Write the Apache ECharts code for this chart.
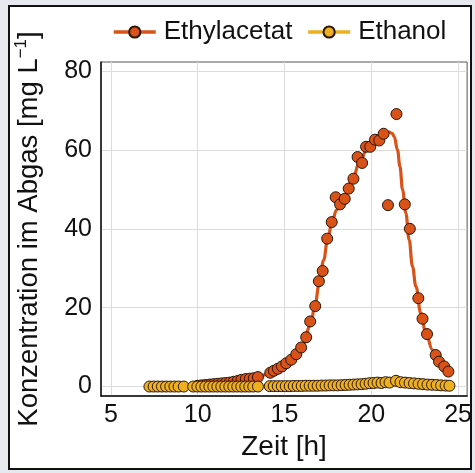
<!DOCTYPE html>
<html>
<head>
<meta charset="utf-8">
<script src="https://cdn.jsdelivr.net/npm/echarts@6/dist/echarts.min.js"></script>
<style>
html,body{margin:0;padding:0;background:#e6e9ee;}
#c{width:475px;height:473px;}
</style>
</head>
<body>
<div id="c"></div>
<script>
// Ethylacetat measurements [time h, concentration mg/L]
const eaTime = [10.0,10.23,10.46,10.69,10.92,11.15,11.38,11.61,11.84,12.07,12.30,12.52,12.77,13.0,13.23,13.47,
  14.18,14.39,14.62,14.85,15.1,15.39,15.68,15.96,16.25,16.48,16.77,16.98,17.2,17.46,17.72,17.95,18.2,18.47,18.7,18.97,
  19.21,19.47,19.7,19.94,20.21,20.46,20.71,20.96,21.45,21.93,22.22,22.71,22.95,23.21,23.71,23.9,24.2,24.44];
const eaValue = [0.2,0.3,0.4,0.5,0.6,0.7,0.8,0.9,1.0,1.2,1.4,1.7,1.9,2.0,2.1,2.4,
  3.5,4.0,4.5,5.1,5.9,6.8,8.2,9.9,12.5,16.5,20.4,26.7,29.3,37.5,41.7,48.0,46.2,47.6,50.2,52.7,
  58.2,56.7,60.8,60.8,62.6,62.4,64.1,46.0,69.1,46.2,40.0,22.4,17.2,13.3,8.0,6.3,5.1,3.8];
// Ethylacetat fit curve
const fitTime = [10.0,11.0,12.0,13.0,13.5,14.0,14.5,15.0,15.5,16.0,16.5,16.75,17.0,17.25,17.5,17.75,18.0,18.35,18.93,19.3,19.79,20.27,20.75,21.03,21.2,21.32,21.51,21.65,21.8,21.99,22.18,22.37,22.57,22.85,23.14,23.52,23.9,24.29,24.48];
const fitValue = [0.4,0.8,1.3,2.0,2.5,3.1,4.0,5.3,7.0,10.0,15.5,20.5,26.0,32.0,37.8,42.0,44.8,47.4,52.5,56.7,60.5,62.6,64.3,64.5,64.2,63.4,60.0,55.8,49.9,44.0,37.2,30.5,25.4,18.6,13.6,9.3,5.9,3.8,2.7];
// Ethanol measurements
const etTime = [7.22,7.46,7.70,7.94,8.18,8.42,8.66,8.90,9.20,9.74,9.98,10.21,10.44,10.67,10.90,11.13,11.36,11.59,11.82,12.05,12.28,12.51,12.74,12.97,13.20,13.47,
  14.15,14.38,14.61,14.84,15.07,15.30,15.53,15.76,15.99,16.22,16.45,16.68,16.91,17.14,17.37,17.60,17.83,18.06,18.29,18.52,18.75,18.98,19.21,19.44,19.67,19.90,20.13,20.36,20.59,20.82,21.05,21.42,21.68,21.94,22.20,22.46,22.72,22.98,23.24,23.50,23.76,24.02,24.28,24.50];
const etValue = [0,0,0,0,0,0,0,0,0,0,0,0,0,0,0,0,0,0,0,0,0,0,0,0,0,0,
  0.1,0.1,0.1,0.1,0.1,0.1,0.15,0.15,0.15,0.2,0.2,0.2,0.2,0.25,0.25,0.3,0.3,0.3,0.35,0.4,0.45,0.5,0.55,0.6,0.7,0.85,0.9,1.0,0.9,1.1,1.0,1.45,1.1,1.0,0.9,0.8,0.7,0.6,0.5,0.45,0.4,0.3,0.25,0.2];
const xTicks = [5,10,15,20,25];
const yTicks = [0,20,40,60,80];

const zip = (a,b)=>a.map((t,i)=>[t,b[i]]);
const FONT = 'Liberation Sans';
const cEA = '#d95319', cET = '#edb120', edge = '#2a1508';

const chart = echarts.init(document.getElementById('c'));
chart.setOption({
  animation:false,
  textStyle:{fontFamily:FONT},
  graphic:[{type:'rect', z:-10, shape:{x:9,y:6,width:462,height:463}, style:{fill:'#fff', stroke:'#111', lineWidth:2}}],
  legend:{
    left:107, top:14, itemWidth:42, itemHeight:14, itemGap:14,
    data:[
      {name:'Ethylacetat', lineStyle:{color:cEA, width:3.5, opacity:1}},
      {name:'Ethanol', lineStyle:{color:cET, width:3.5, opacity:1}}
    ],
    textStyle:{fontSize:26, color:'#111', fontFamily:FONT, padding:[0,0,0,3]}
  },
  grid:{left:101, top:62, right:7, bottom:77, show:true, borderColor:'#555', borderWidth:1, backgroundColor:'transparent'},
  xAxis:{
    type:'value', min:4.43, max:25.52,
    name:'Zeit [h]', nameLocation:'middle', nameGap:33,
    nameTextStyle:{fontSize:28, color:'#111', fontFamily:FONT},
    axisLine:{show:true, onZero:false, lineStyle:{color:'#111', width:1.5}},
    axisTick:{show:false, customValues:xTicks},
    axisLabel:{customValues:xTicks, fontSize:25, color:'#111', margin:7, fontFamily:FONT},
    splitLine:{show:true, lineStyle:{color:'#dcdcdc', width:1}}
  },
  yAxis:{
    type:'value', min:-2.4, max:82.3,
    name:'{n|Konzentration im Abgas [mg L}{s|−1}{n|]}', nameLocation:'middle', nameGap:56,
    nameTextStyle:{fontSize:28, color:'#111', fontFamily:FONT,
      rich:{n:{fontSize:27.5, color:'#111', fontFamily:FONT}, s:{fontSize:17, color:'#111', fontFamily:FONT, padding:[0,0,15,0]}}},
    axisLine:{show:true, onZero:false, lineStyle:{color:'#111', width:1.5}},
    axisTick:{show:false, customValues:yTicks},
    axisLabel:{customValues:yTicks, fontSize:25, color:'#111', margin:9, fontFamily:FONT},
    splitLine:{show:true, lineStyle:{color:'#dcdcdc', width:1}}
  },
  series:[
    {name:'Ethylacetat', type:'line', data:zip(fitTime,fitValue), smooth:0.4, smoothMonotone:'x',
     showSymbol:false, symbol:'circle', symbolSize:11, z:2,
     lineStyle:{color:cEA, width:3.2},
     itemStyle:{color:cEA, borderColor:edge, borderWidth:1}},
    {name:'EA Messwerte', type:'scatter', data:zip(eaTime,eaValue), symbol:'circle', symbolSize:11, z:3,
     itemStyle:{color:cEA, borderColor:edge, borderWidth:1, opacity:1}},
    {name:'Ethanol', type:'line', data:zip(etTime,etValue), symbol:'circle', symbolSize:11, showSymbol:true, z:4,
     lineStyle:{color:cET, width:0, opacity:0},
     itemStyle:{color:cET, borderColor:edge, borderWidth:1}}
  ]
});
</script>
</body>
</html>
